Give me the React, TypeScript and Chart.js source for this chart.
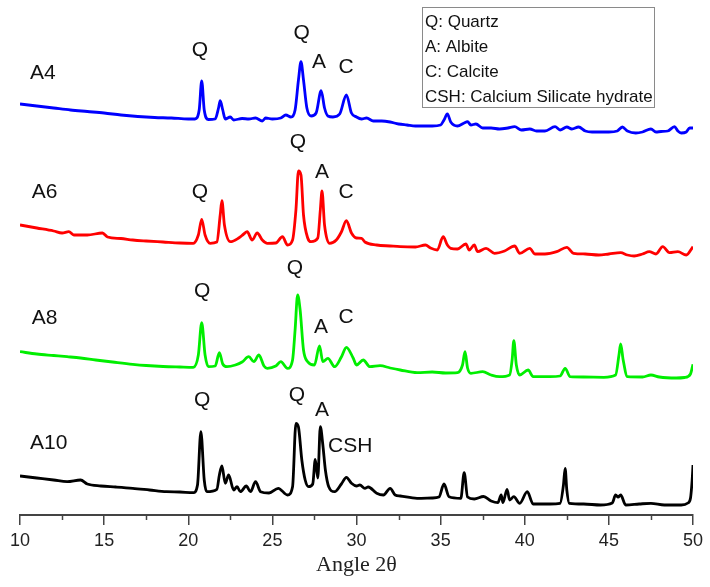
import React, { useEffect, useRef } from "react";
import { Chart, registerables } from "chart.js";

Chart.register(...registerables);

// 2θ (degrees) vs. stacked intensity (a.u.)
const seriesA4: [number, number][] = [
  [10.0, 411], [11.0, 409], [12.0, 407], [13.0, 405], [14.0, 403.5], [15.0, 402], [16.0, 400], [17.0, 398.5],
  [18.0, 397.5], [19.0, 397], [20.0, 396], [20.4, 396], [20.65, 405], [20.8, 434], [20.95, 405], [21.2, 395.5],
  [21.6, 396], [21.8, 407], [21.9, 414.3], [22.05, 405], [22.2, 396], [22.5, 398], [22.7, 395], [23.2, 396.5],
  [23.6, 396], [24.0, 397], [24.4, 394], [24.6, 397], [25.0, 396], [25.5, 397], [25.8, 400], [26.1, 398],
  [26.35, 405], [26.55, 435], [26.7, 453.3], [26.85, 435], [27.05, 407], [27.3, 399], [27.6, 402], [27.9, 424.3],
  [28.1, 407], [28.3, 399], [28.6, 398], [29.0, 401], [29.4, 420], [29.7, 402], [30.0, 398], [30.3, 396],
  [30.6, 397], [31.0, 394], [31.5, 394], [32.0, 393], [32.5, 391], [33.0, 390], [33.5, 389], [34.0, 389],
  [34.5, 389], [35.0, 390], [35.2, 395], [35.4, 401], [35.6, 393], [36.0, 389], [36.4, 392], [36.6, 393.3],
  [36.8, 390], [37.1, 391], [37.5, 387], [38.0, 387], [38.5, 386], [39.0, 387], [39.4, 388.3], [39.8, 385],
  [40.3, 386], [40.7, 384], [41.2, 384], [41.8, 388.3], [42.1, 385], [42.5, 388], [42.8, 386], [43.2, 388],
  [43.6, 384], [44.0, 383], [44.5, 383], [45.0, 383], [45.5, 384], [45.8, 388], [46.1, 384], [46.6, 382],
  [47.0, 383], [47.5, 386], [47.8, 383], [48.1, 383.5], [48.5, 384], [48.9, 388.3], [49.1, 384], [49.3, 382],
  [49.6, 383], [49.8, 387], [50.0, 387],
];

const seriesA6: [number, number][] = [
  [10.0, 290], [11.0, 287], [12.0, 284], [12.5, 282], [12.9, 283.3], [13.2, 280], [14.0, 280], [14.9, 282],
  [15.2, 278], [16.0, 276.5], [16.7, 275], [17.5, 274], [18.5, 273], [19.5, 272], [20.3, 271.7], [20.6, 280],
  [20.8, 295.7], [21.0, 280], [21.3, 271.7], [21.7, 273], [21.9, 300], [22.0, 314.3], [22.15, 290], [22.5, 273.3],
  [23.0, 277], [23.3, 281], [23.5, 283.3], [23.8, 275], [24.1, 282], [24.4, 275], [24.7, 271.7], [25.2, 272],
  [25.6, 278.3], [25.9, 270], [26.2, 275], [26.4, 305], [26.55, 344], [26.7, 340], [26.85, 300], [27.1, 277],
  [27.3, 273.3], [27.7, 277], [27.85, 305], [27.95, 324], [28.1, 290], [28.4, 271.7], [28.8, 275], [29.1, 283],
  [29.4, 294.3], [29.7, 282], [30.0, 277], [30.3, 276.7], [30.5, 273], [31.2, 270], [32.0, 269], [32.6, 268.3],
  [33.5, 268], [34.1, 270], [34.4, 267], [34.8, 265], [35.15, 278.3], [35.4, 270], [35.6, 266.7], [36.0, 266],
  [36.5, 271], [36.7, 265], [37.0, 270], [37.2, 263.3], [37.7, 266.7], [38.2, 261.7], [38.8, 264], [39.4, 269],
  [39.7, 261.7], [40.3, 266.7], [40.6, 261], [41.2, 261], [41.9, 263.3], [42.5, 267.7], [42.9, 261.7], [43.6, 261],
  [44.4, 260], [45.0, 261], [45.7, 262.3], [46.1, 260], [46.5, 259], [47.0, 261], [47.4, 263.3], [47.8, 261],
  [48.2, 268.3], [48.6, 262.3], [49.1, 263.3], [49.6, 260], [50.0, 268.3],
];

const seriesA8: [number, number][] = [
  [10.0, 163.3], [11.0, 161], [12.0, 159.5], [12.8, 158.3], [13.6, 157], [14.5, 155], [15.5, 153], [16.7, 150.7],
  [17.5, 149.5], [18.5, 148.5], [19.5, 148], [20.3, 147.7], [20.6, 160], [20.8, 192.3], [21.0, 160], [21.2, 148.3],
  [21.6, 149], [21.85, 162.3], [22.05, 151], [22.3, 148.3], [22.8, 150], [23.2, 153], [23.6, 158.3], [23.9, 153.3],
  [24.2, 160], [24.5, 149], [24.7, 146.7], [25.2, 149], [25.5, 153.3], [25.9, 146.7], [26.2, 155], [26.35, 185],
  [26.5, 220], [26.65, 205], [26.85, 165], [27.1, 153.3], [27.5, 150], [27.8, 169], [28.0, 153.3], [28.3, 156.7],
  [28.7, 148.3], [29.1, 158], [29.4, 167.7], [29.8, 157], [30.0, 150], [30.4, 155], [30.8, 148.3], [31.4, 149.3],
  [32.0, 147], [32.6, 145], [33.6, 142.3], [34.5, 143], [35.3, 142], [36.0, 142.3], [36.3, 150], [36.45, 163.3],
  [36.6, 147], [36.8, 141.7], [37.5, 143.3], [38.0, 140], [38.5, 138.3], [39.1, 140], [39.25, 155], [39.35, 174.3],
  [39.5, 150], [39.7, 140], [40.2, 145], [40.5, 138.3], [41.5, 138.3], [42.1, 139], [42.4, 146.7], [42.7, 138.3],
  [43.5, 138], [44.7, 137.7], [45.4, 140], [45.6, 160], [45.7, 171], [45.85, 155], [46.1, 138.3], [47.0, 138],
  [47.5, 140], [48.0, 138], [49.0, 137], [49.5, 137.5], [49.85, 141], [50.0, 150.7],
];

const seriesA10: [number, number][] = [
  [10.0, 39], [11.0, 37], [12.0, 35], [12.8, 33.3], [13.6, 35], [14.0, 31], [14.8, 29], [15.7, 28],
  [16.7, 26.7], [17.7, 25], [18.7, 23.3], [19.5, 23], [20.3, 22.3], [20.55, 30], [20.75, 83.3], [20.95, 35],
  [21.1, 23.3], [21.7, 25.7], [21.85, 40], [22.0, 49], [22.2, 31.7], [22.4, 40], [22.7, 25], [22.9, 28.3],
  [23.1, 23.3], [23.45, 29], [23.7, 23.3], [24.0, 33.3], [24.3, 23.3], [24.8, 22], [25.35, 26.7], [25.9, 20],
  [26.2, 28.3], [26.4, 91.7], [26.55, 88], [26.75, 55], [26.95, 35], [27.15, 28.3], [27.4, 31], [27.55, 55.7],
  [27.7, 37], [27.85, 88.3], [28.0, 70], [28.15, 45], [28.35, 28.3], [28.7, 23.3], [29.1, 31], [29.4, 37.7],
  [29.7, 31.7], [30.0, 29], [30.2, 30], [30.5, 26.7], [30.7, 28], [31.2, 21.7], [31.6, 20], [32.0, 26.7],
  [32.3, 20], [32.6, 19], [33.6, 16.7], [34.5, 17], [34.9, 18], [35.2, 31], [35.5, 18.3], [36.2, 16.7],
  [36.4, 42.3], [36.6, 18], [37.0, 16], [37.55, 18.5], [38.0, 14], [38.4, 12.3], [38.6, 20], [38.7, 12.3],
  [38.95, 25.7], [39.1, 15], [39.35, 18.3], [39.7, 11.7], [40.15, 23.3], [40.5, 11], [41.5, 11], [42.1, 11.7],
  [42.3, 30], [42.4, 46.7], [42.5, 25], [42.65, 11.7], [43.5, 11], [44.5, 10], [45.2, 12], [45.4, 20],
  [45.55, 18], [45.7, 20], [46.0, 10], [46.8, 11], [47.5, 11.7], [48.3, 10], [49.3, 10], [49.7, 12],
  [49.85, 16.7], [49.95, 35], [50.0, 50],
];

const sampleNames = ["A4", "A6", "A8", "A10"];
const sampleColors = ["#0000ff", "#ff0000", "#00ee00", "#000000"];

const xTickStep = 5;
const minorTickValues = [12.5, 17.5, 22.5, 27.5, 32.5, 37.5, 42.5, 47.5];

// phase legend
const legendItems = ["Q: Quartz", "A: Albite", "C: Calcite", "CSH: Calcium Silicate hydrate"];

// annotation labels: [text, 2θ, intensity, align]
const peakLabels: [string, number, number, "left" | "center"][] = [
  ["A4", 10.6, 442, "left"],
  ["A6", 10.7, 323, "left"],
  ["A8", 10.7, 197, "left"],
  ["A10", 10.6, 72, "left"],
  ["Q", 20.7, 465, "center"], ["Q", 26.74, 482, "center"], ["A", 27.77, 452.5, "center"], ["C", 29.38, 448, "center"],
  ["Q", 20.7, 323, "center"], ["Q", 26.52, 373, "center"], ["A", 27.95, 343, "center"], ["C", 29.38, 323, "center"],
  ["Q", 20.82, 224, "center"], ["Q", 26.34, 247, "center"], ["A", 27.89, 188, "center"], ["C", 29.38, 198, "center"],
  ["Q", 20.82, 115, "center"], ["Q", 26.46, 120, "center"], ["A", 27.95, 105, "center"], ["CSH", 28.31, 69, "left"],
];

const SANS = '"Liberation Sans", Arial, sans-serif';
const SERIF = '"Liberation Serif", "Times New Roman", serif';

export default function App() {
  const ref = useRef<HTMLCanvasElement | null>(null);

  useEffect(() => {
    if (!ref.current) return;
    const series = [seriesA4, seriesA6, seriesA8, seriesA10];

    const overlay = {
      id: "overlay",
      afterDraw(chart: any) {
        const ctx = chart.ctx;
        const xs = chart.scales.x;
        const ys = chart.scales.y;
        const area = chart.chartArea;
        ctx.save();
        // minor ticks
        ctx.strokeStyle = "#444";
        ctx.lineWidth = 1.5;
        for (const v of minorTickValues) {
          const px = Math.round(xs.getPixelForValue(v)) + 0.5;
          ctx.beginPath();
          ctx.moveTo(px, area.bottom);
          ctx.lineTo(px, area.bottom + 5);
          ctx.stroke();
        }
        // peak and sample labels
        ctx.fillStyle = "#111";
        ctx.font = `21px ${SANS}`;
        ctx.textBaseline = "middle";
        for (const [t, x, y, al] of peakLabels) {
          ctx.textAlign = al;
          ctx.fillText(t, xs.getPixelForValue(x), ys.getPixelForValue(y));
        }
        // legend box
        const bx = 422, by = 7, bw = 232, bh = 100;
        ctx.fillStyle = "#fff";
        ctx.fillRect(bx, by, bw, bh);
        ctx.strokeStyle = "#8a8a8a";
        ctx.lineWidth = 1;
        ctx.strokeRect(bx + 0.5, by + 0.5, bw, bh);
        ctx.fillStyle = "#111";
        ctx.font = `17px ${SANS}`;
        ctx.textAlign = "left";
        legendItems.forEach((t, i) => {
          ctx.fillText(t, bx + 3, by + 15 + i * 25);
        });
        ctx.restore();
      },
    };

    const chart = new Chart(ref.current, {
      type: "line",
      data: {
        datasets: series.map((s, i) => ({
          label: sampleNames[i],
          data: s.map(([x, y]) => ({ x, y })),
          borderColor: sampleColors[i],
          backgroundColor: sampleColors[i],
          borderWidth: 2.8,
          pointRadius: 0,
          cubicInterpolationMode: "monotone",
          borderJoinStyle: "round",
          fill: false,
        })),
      },
      options: {
        animation: false,
        responsive: false,
        devicePixelRatio: 1,
        layout: { padding: { left: 20, right: 17, top: 0, bottom: 0 } },
        plugins: { legend: { display: false }, tooltip: { enabled: false }, title: { display: false } },
        scales: {
          x: {
            type: "linear",
            min: 10,
            max: 50,
            afterFit: (scale: any) => {
              scale.height = 72;
            },
            ticks: {
              stepSize: xTickStep,
              color: "#222",
              padding: 5,
              font: { family: SANS, size: 18 },
              maxRotation: 0,
            },
            grid: {
              drawOnChartArea: false,
              drawTicks: true,
              tickLength: 10,
              color: "#444",
              lineWidth: 1.5,
            },
            border: { display: true, color: "#444", width: 2 },
            title: {
              display: true,
              text: "Angle 2θ",
              color: "#222",
              font: { family: SERIF, size: 22 },
              padding: { top: 0, bottom: 9 },
            },
          },
          y: {
            type: "linear",
            display: false,
            min: 0,
            max: 515,
          },
        },
      },
      plugins: [overlay],
    } as any);

    return () => chart.destroy();
  }, []);

  return (
    <div style={{ position: "absolute", left: 0, top: 0, width: 710, height: 587, background: "#fff" }}>
      <canvas ref={ref} width={710} height={587} />
    </div>
  );
}
